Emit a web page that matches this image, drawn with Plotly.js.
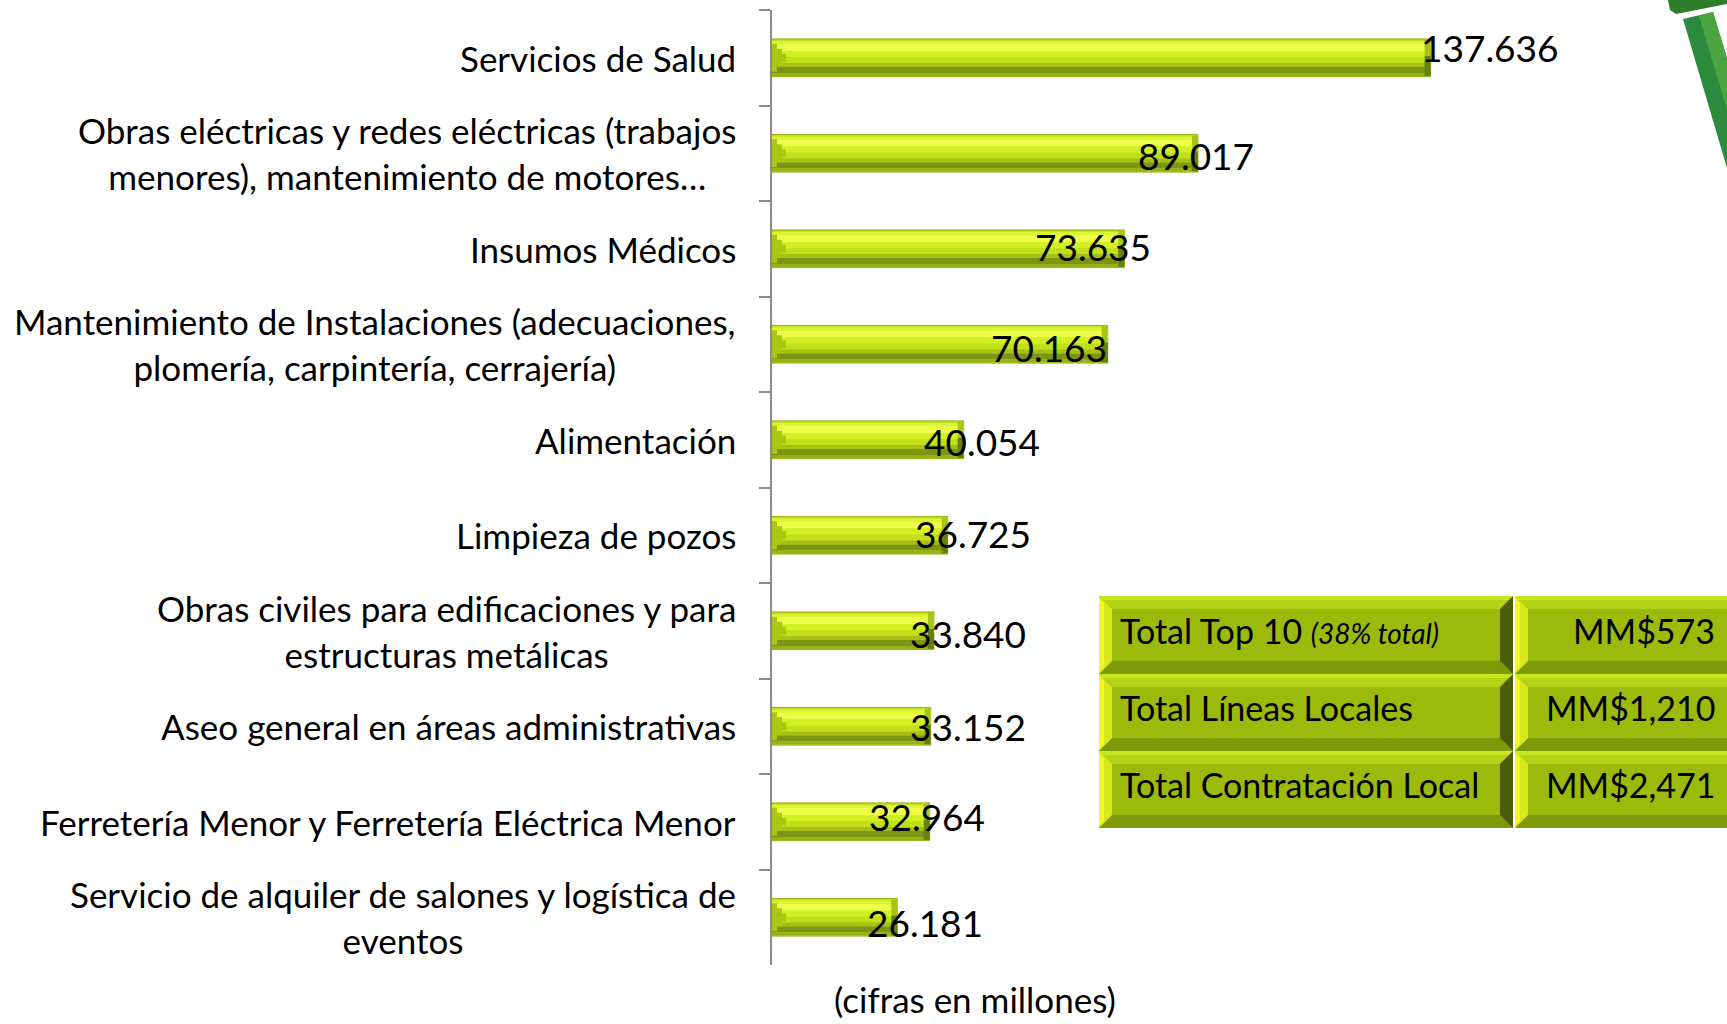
<!DOCTYPE html>
<html>
<head>
<meta charset="utf-8">
<script src="https://cdn.plot.ly/plotly-3.0.1.min.js"></script>
<style>
  html, body { margin: 0; padding: 0; background: #ffffff; }
  #chart { width: 1727px; height: 1024px; }
</style>
</head>
<body>
<div id="chart"></div>
<script>
// ---------------- DATA ----------------
const categories = [
  "Servicios de Salud",
  "Obras eléctricas y redes eléctricas (trabajos<br>menores), mantenimiento de motores…",
  "Insumos Médicos",
  "Mantenimiento de Instalaciones (adecuaciones,<br>plomería, carpintería, cerrajería)",
  "Alimentación",
  "Limpieza de pozos",
  "Obras civiles para edificaciones y para<br>estructuras metálicas",
  "Aseo general en áreas administrativas",
  "Ferretería Menor y Ferretería Eléctrica Menor",
  "Servicio de alquiler de salones y logística de<br>eventos"
];
const values = [137.636, 89.017, 73.635, 70.163, 40.054, 36.725, 33.840, 33.152, 32.964, 26.181];

const tableLabels = [
  "Total Top 10 <i><span style=\"font-size:28px\">(38% total)</span></i>",
  "Total Líneas Locales",
  "Total Contratación Local"
];
const tableValues = ["MM$573", "MM$1,210", "MM$2,471"];
const axisNote = "(cifras en millones)";

// ---------------- STYLE / LAYOUT (pixels) ----------------
const W = 1727, H = 1024;
const L = 772, T = 10, PW = 955, PH = 955;
const PX_PER_UNIT = 4.785;
const BAND = PH / categories.length;          // px per category
const BAR_PX = 37.7;
const FONT = "Lato, 'Open Sans', sans-serif";
// manual label nudges (px) as in the original slide
const labelDx = [59, -2, -31, -59, 18, 25, 34, 37, -3, 28];
const labelDy = [-10, 2, -2, 3, 2, -2, 3, 0, -5, 5];

function pxX(x) { return (x - L) / PW; }
function pxY(y) { return 1 - (y - T) / PH; }
function pathOf(pts) {
  return 'M' + pts.map(p => pxX(p[0]).toFixed(5) + ',' + pxY(p[1]).toFixed(5)).join('L') + 'Z';
}

const u = 1 / BAND; // category units per px
const half = BAR_PX / 2;

function layer(fromPx, toPx, color, name) {
  return {
    type: 'bar', orientation: 'h', name: name,
    x: values, y: categories,
    width: (toPx - fromPx) * u,
    offset: (fromPx - half) * u,
    marker: { color: color, line: { width: 0 } },
    hoverinfo: 'skip', showlegend: false
  };
}
function leftStep(lenPx, hPx, color, name) {
  return {
    type: 'bar', orientation: 'h', name: name,
    x: values.map(() => lenPx / PX_PER_UNIT), y: categories,
    width: hPx * u, offset: -hPx / 2 * u,
    marker: { color: color, line: { width: 0 } },
    hoverinfo: 'skip', showlegend: false
  };
}
function endStrip(fromPx, toPx, color, name) {
  return {
    type: 'bar', orientation: 'h', name: name,
    x: values.map(() => 6 / PX_PER_UNIT), base: values.map(v => v - 6 / PX_PER_UNIT), y: categories,
    width: (toPx - fromPx) * u, offset: (fromPx - half) * u,
    marker: { color: color, line: { width: 0 } }, hoverinfo: 'skip', showlegend: false
  };
}

const traces = [
  {
    type: 'bar', orientation: 'h', name: 'Contratación',
    x: values, y: categories,
    width: BAR_PX * u, offset: -half * u,
    marker: { color: '#c0e11a', line: { color: '#98b014', width: 1 } },
    hovertemplate: '%{y}: %{x:.3f}<extra></extra>', showlegend: false
  },
  layer(2, 5, '#dcf435', 'hl1'),
  layer(5, 12, '#eeff48', 'hl2'),
  layer(12, 18, '#d2ef24', 'hl3'),
  layer(24, 28, '#a6c016', 'dk1'),
  layer(28, 34, '#7b9611', 'dk2'),
  layer(34, 37, '#98b118', 'dk3'),
  leftStep(5, 28, '#a9c815', 'ls1'),
  leftStep(10, 18, '#a9c815', 'ls2'),
  leftStep(14, 8, '#a9c815', 'ls3'),
  endStrip(1, 17, '#a9c416', 'endL'),
  endStrip(17, 37, '#66800c', 'endD')
];

// ---------------- ANNOTATIONS ----------------
const annotations = [];
categories.forEach((c, i) => {
  annotations.push({
    xref: 'paper', yref: 'y', x: 0, y: c, xanchor: 'right', yanchor: 'middle',
    xshift: -34, text: c, align: 'center', showarrow: false,
    font: { family: FONT, size: 35, color: '#000000' }
  });
  annotations.push({
    xref: 'x', yref: 'y', x: values[i], y: c, xanchor: 'center', yanchor: 'middle',
    xshift: labelDx[i], yshift: -labelDy[i],
    text: values[i].toFixed(3), showarrow: false,
    font: { family: FONT, size: 37, color: '#000000' }
  });
});
annotations.push({
  xref: 'paper', yref: 'paper', x: pxX(975), y: pxY(999), xanchor: 'center', yanchor: 'middle',
  text: axisNote, showarrow: false, font: { family: FONT, size: 35, color: '#000000' }
});

// ---------------- TABLE (shapes) ----------------
const shapes = [];
const rowsY = [596, 674, 751, 828];
const colsX = [[1099, 1513], [1515, 1745]];
const B = 13;
function cell(x0, y0, x1, y1) {
  shapes.push({ type: 'path', xref: 'paper', yref: 'paper', path: pathOf([[x0,y0],[x1,y0],[x1,y1],[x0,y1]]), fillcolor: '#9bba0c', line: { width: 0 }, layer: 'below' });
  shapes.push({ type: 'path', xref: 'paper', yref: 'paper', path: pathOf([[x0,y0],[x1,y0],[x1-B,y0+B],[x0+B,y0+B]]), fillcolor: '#b3d316', line: { width: 0 }, layer: 'below' });
  shapes.push({ type: 'path', xref: 'paper', yref: 'paper', path: pathOf([[x0,y0],[x1,y0],[x1,y0+4],[x0,y0+4]]), fillcolor: '#c7e620', line: { width: 0 }, layer: 'below' });
  shapes.push({ type: 'path', xref: 'paper', yref: 'paper', path: pathOf([[x0,y1],[x1,y1],[x1-B,y1-B],[x0+B,y1-B]]), fillcolor: '#7f9a09', line: { width: 0 }, layer: 'below' });
  shapes.push({ type: 'path', xref: 'paper', yref: 'paper', path: pathOf([[x0,y0],[x0+B,y0+B],[x0+B,y1-B],[x0,y1]]), fillcolor: '#d9e61a', line: { width: 0 }, layer: 'below' });
  shapes.push({ type: 'path', xref: 'paper', yref: 'paper', path: pathOf([[x0,y0+2],[x0+5,y0+7],[x0+5,y1-7],[x0,y1-2]]), fillcolor: '#f6f52a', line: { width: 0 }, layer: 'below' });
  shapes.push({ type: 'path', xref: 'paper', yref: 'paper', path: pathOf([[x1,y0],[x1-B,y0+B],[x1-B,y1-B],[x1,y1]]), fillcolor: '#4f5c06', line: { width: 0 }, layer: 'below' });
}
for (let r = 0; r < 3; r++) {
  for (let c = 0; c < 2; c++) cell(colsX[c][0], rowsY[r], colsX[c][1], rowsY[r+1]);
  const cy = (rowsY[r] + rowsY[r+1]) / 2 - 5;
  annotations.push({
    xref: 'paper', yref: 'paper', x: pxX(1118), y: pxY(cy), xanchor: 'left', yanchor: 'middle',
    text: tableLabels[r], showarrow: false, font: { family: FONT, size: 34, color: '#000000' }
  });
  annotations.push({
    xref: 'paper', yref: 'paper', x: pxX(1717), y: pxY(cy), xanchor: 'right', yanchor: 'middle',
    text: tableValues[r], showarrow: false, font: { family: FONT, size: 34, color: '#000000' }
  });
}

// ---------------- LOGO FRAGMENT (top-right) ----------------
shapes.push({ type: 'path', xref: 'paper', yref: 'paper', path: pathOf([[1668,0],[1727,0],[1727,4],[1676,14],[1670,10]]), fillcolor: '#2f7d2c', line: { width: 0 } });
shapes.push({ type: 'path', xref: 'paper', yref: 'paper', path: pathOf([[1683,19],[1713,12],[1727,58],[1727,168]]), fillcolor: '#2b8a3c', line: { width: 0 } });
shapes.push({ type: 'path', xref: 'paper', yref: 'paper', path: pathOf([[1699,16],[1713,12],[1727,58],[1727,110]]), fillcolor: '#4aa541', line: { width: 0 } });

// ---------------- LAYOUT ----------------
const layout = {
  width: W, height: H,
  margin: { l: L, r: W - L - PW, t: T, b: H - T - PH, pad: 0 },
  paper_bgcolor: '#ffffff', plot_bgcolor: 'rgba(0,0,0,0)',
  barmode: 'overlay',
  showlegend: false,
  font: { family: FONT, color: '#000000' },
  xaxis: {
    range: [0, PW / PX_PER_UNIT], visible: false, showgrid: false, zeroline: false, fixedrange: true
  },
  yaxis: {
    type: 'category', categoryorder: 'array', categoryarray: categories,
    range: [categories.length - 0.5, -0.5],
    showline: true, linecolor: '#8c8c8c', linewidth: 2,
    ticks: 'outside', tickson: 'boundaries', ticklen: 11, tickwidth: 2, tickcolor: '#8c8c8c',
    showticklabels: false, showgrid: false, zeroline: false, fixedrange: true
  },
  annotations: annotations,
  shapes: shapes
};

Plotly.newPlot('chart', traces, layout, { staticPlot: true, displayModeBar: false });
</script>
</body>
</html>
